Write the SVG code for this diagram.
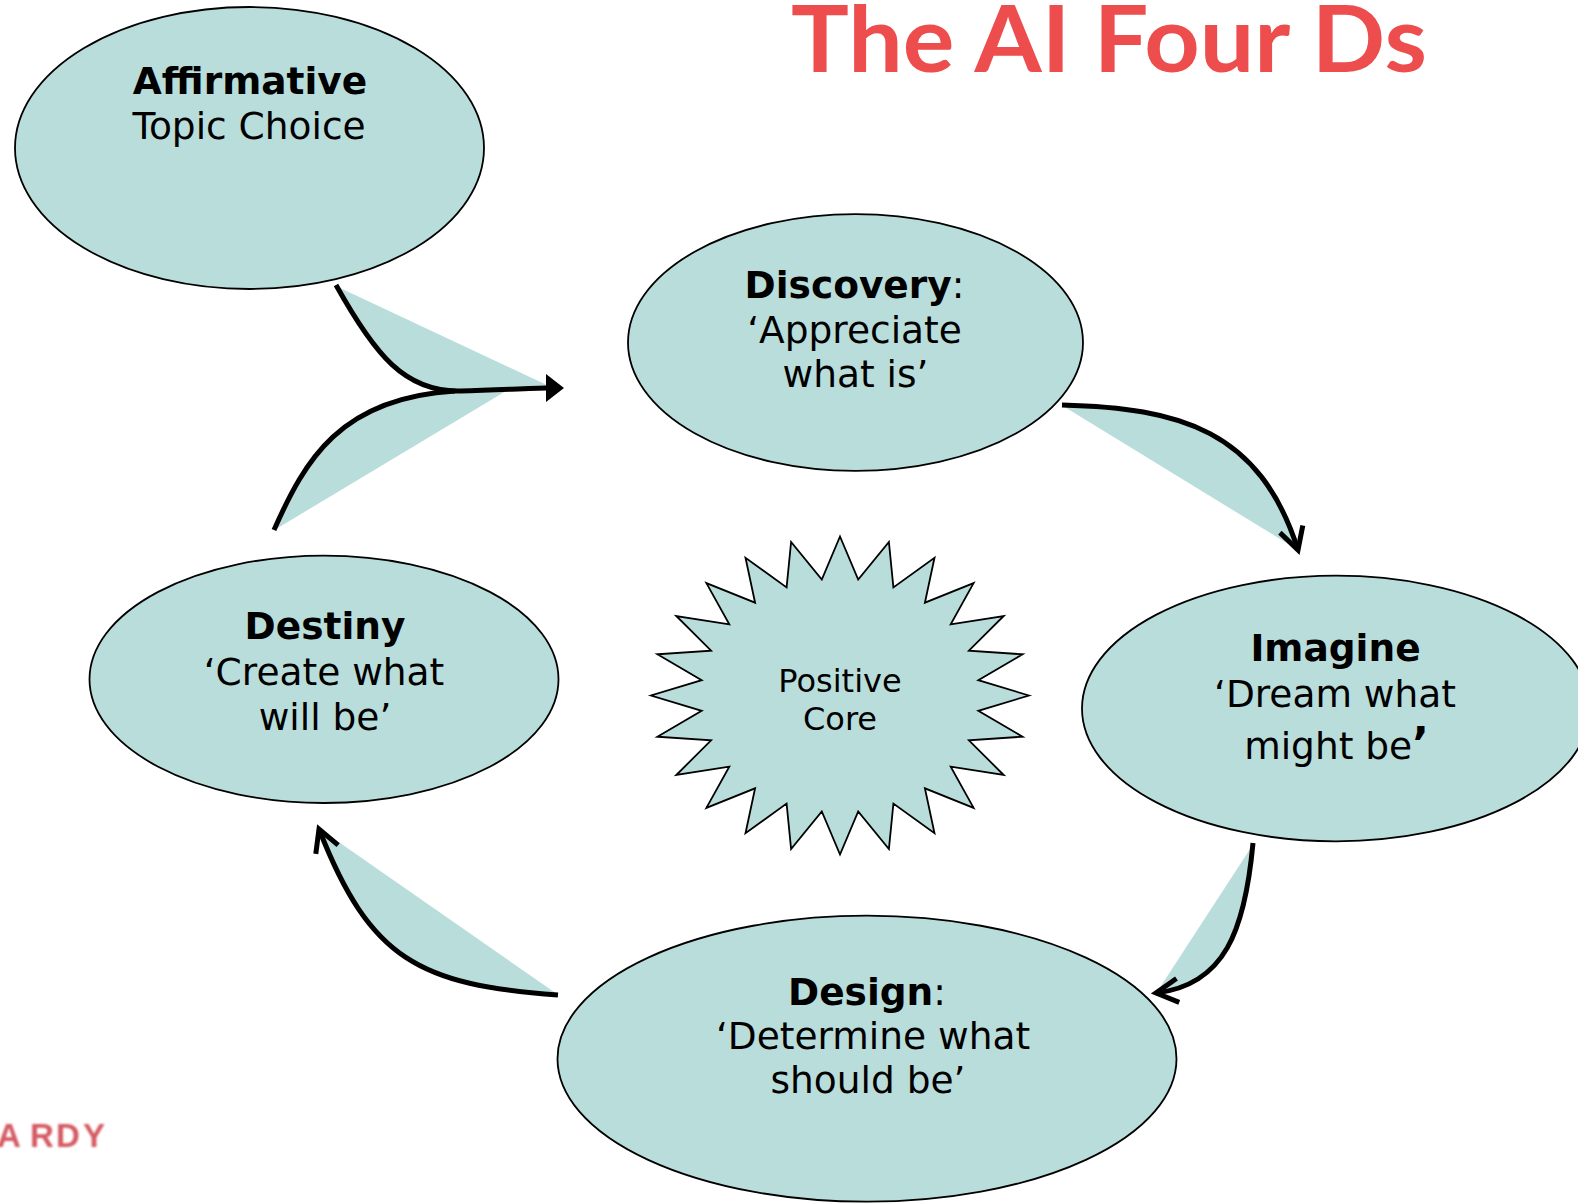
<svg xmlns="http://www.w3.org/2000/svg" width="1578" height="1204" viewBox="0 0 1578 1204">
  <style>
    .stage { fill: #B9DDDB; stroke: #000; stroke-width: 1.8; }
    .lbl { font-family: "DejaVu Sans", Verdana, sans-serif; font-size: 37.5px; fill: #000; text-anchor: middle; }
    .b { font-weight: bold; }
    .wedge { fill: #B9DDDB; stroke: none; }
    .flow { fill: none; stroke: #000; stroke-width: 5; }
    .title { font-family: Lato, "Liberation Sans", sans-serif; font-weight: bold; font-size: 92px; fill: #EE4D4E; }
  </style>
  <defs>
    <marker id="headSolid" markerUnits="userSpaceOnUse" orient="auto" refX="0" refY="0" markerWidth="20" markerHeight="30" overflow="visible">
      <path d="M-1,-14 L17,0 L-1,14 Z" fill="#000"/>
    </marker>
    <marker id="headOpen" markerUnits="userSpaceOnUse" orient="auto" refX="0" refY="0" markerWidth="30" markerHeight="30" overflow="visible">
      <path d="M-22,-12 L0,0 L-22,12" fill="none" stroke="#000" stroke-width="5" stroke-linejoin="miter"/>
    </marker>
    <filter id="soft" x="-10%" y="-30%" width="120%" height="160%">
      <feGaussianBlur stdDeviation="0.9"/>
    </filter>
  </defs>

  <!-- title -->
  <text class="title" x="791" y="72" textLength="636" lengthAdjust="spacingAndGlyphs">The AI Four Ds</text>

  <!-- cut-off logo text at the lower left -->
  <text font-family="'Liberation Sans', Arial, sans-serif" font-weight="bold" font-size="33" fill="#D45A62" filter="url(#soft)" x="-3 30 56 83" y="1147">ARDY</text>

  <!-- connectors with their shaded wedges -->
  <g id="connectors">
    <path class="wedge" d="M338,287 C375,355 405,392 460,391 C500,390 530,388 549,386 Z"/>
    <path class="wedge" d="M276,529 C305,460 340,398 455,391 L506,391 Z"/>
    <path class="wedge" d="M1063,406 C1180,408 1260,430 1298,550 Z"/>
    <path class="wedge" d="M1252,846 C1245,930 1225,985 1157,992 Z"/>
    <path class="wedge" d="M557,994 C420,985 370,960 320,829 Z"/>

    <path class="flow" d="M336,285 C375,355 405,392 460,391 C500,390 530,388 547,388" marker-end="url(#headSolid)"/>
    <path class="flow" d="M274,530 C305,460 340,398 455,391"/>
    <path class="flow" d="M1062,405 C1180,408 1260,430 1298,550" marker-end="url(#headOpen)"/>
    <path class="flow" d="M1253,843 C1245,930 1225,985 1156,993" marker-end="url(#headOpen)"/>
    <path class="flow" d="M558,995 C420,985 370,960 319,829" marker-end="url(#headOpen)"/>
  </g>

  <!-- stages -->
  <g id="affirmative">
    <ellipse class="stage" cx="249.5" cy="148" rx="234.5" ry="141"/>
    <text class="lbl b" x="250" y="94">Affirmative</text>
    <text class="lbl" x="249" y="139">Topic Choice</text>
  </g>

  <g id="discovery">
    <ellipse class="stage" cx="855.5" cy="342.5" rx="227.5" ry="128.3"/>
    <text class="lbl" x="854.5" y="298"><tspan class="b">Discovery</tspan>:</text>
    <text class="lbl" x="854.5" y="342.5">‘Appreciate</text>
    <text class="lbl" x="855.5" y="387">what is’</text>
  </g>

  <g id="imagine">
    <ellipse class="stage" cx="1336" cy="708.5" rx="254" ry="132.8"/>
    <text class="lbl b" x="1335.5" y="661">Imagine</text>
    <text class="lbl" x="1335" y="707">‘Dream what</text>
    <text class="lbl" x="1336.5" y="759">might be<tspan font-size="44" font-weight="bold">’</tspan></text>
  </g>

  <g id="design">
    <ellipse class="stage" cx="867" cy="1058.7" rx="309.5" ry="143"/>
    <text class="lbl" x="867" y="1004.5"><tspan class="b">Design</tspan>:</text>
    <text class="lbl" x="873" y="1048.5">‘Determine what</text>
    <text class="lbl" x="868" y="1093">should be’</text>
  </g>

  <g id="destiny">
    <ellipse class="stage" cx="324" cy="679.3" rx="234.5" ry="123.7"/>
    <text class="lbl b" x="325" y="639">Destiny</text>
    <text class="lbl" x="324" y="684.5">‘Create what</text>
    <text class="lbl" x="325" y="730">will be’</text>
  </g>

  <!-- centre burst -->
  <g id="positive-core">
    <polygon class="stage" points="1029,695.5 978.3,680.2 1022.6,654.3 968.9,650.7 1003.7,616 950.7,624.3 973.6,583.1 924.9,602.7 934.5,557.8 893.4,587.4 888.9,541.9 858.2,579.5 840,536.5 821.8,579.5 791.1,541.9 786.6,587.4 745.5,557.8 755.1,602.7 706.4,583.1 729.3,624.3 676.3,616 711.1,650.7 657.4,654.3 701.7,680.2 651,695.5 701.7,710.8 657.4,736.7 711.1,740.3 676.3,775 729.3,766.7 706.4,807.9 755.1,788.3 745.5,833.2 786.6,803.6 791.1,849.1 821.8,811.5 840,854.5 858.2,811.5 888.9,849.1 893.4,803.6 934.5,833.2 924.9,788.3 973.6,807.9 950.7,766.7 1003.7,775 968.9,740.3 1022.6,736.7 978.3,710.8"/>
    <text class="lbl" style="font-size:32px" x="840" y="692">Positive</text>
    <text class="lbl" style="font-size:32px" x="840" y="730">Core</text>
  </g>
</svg>
